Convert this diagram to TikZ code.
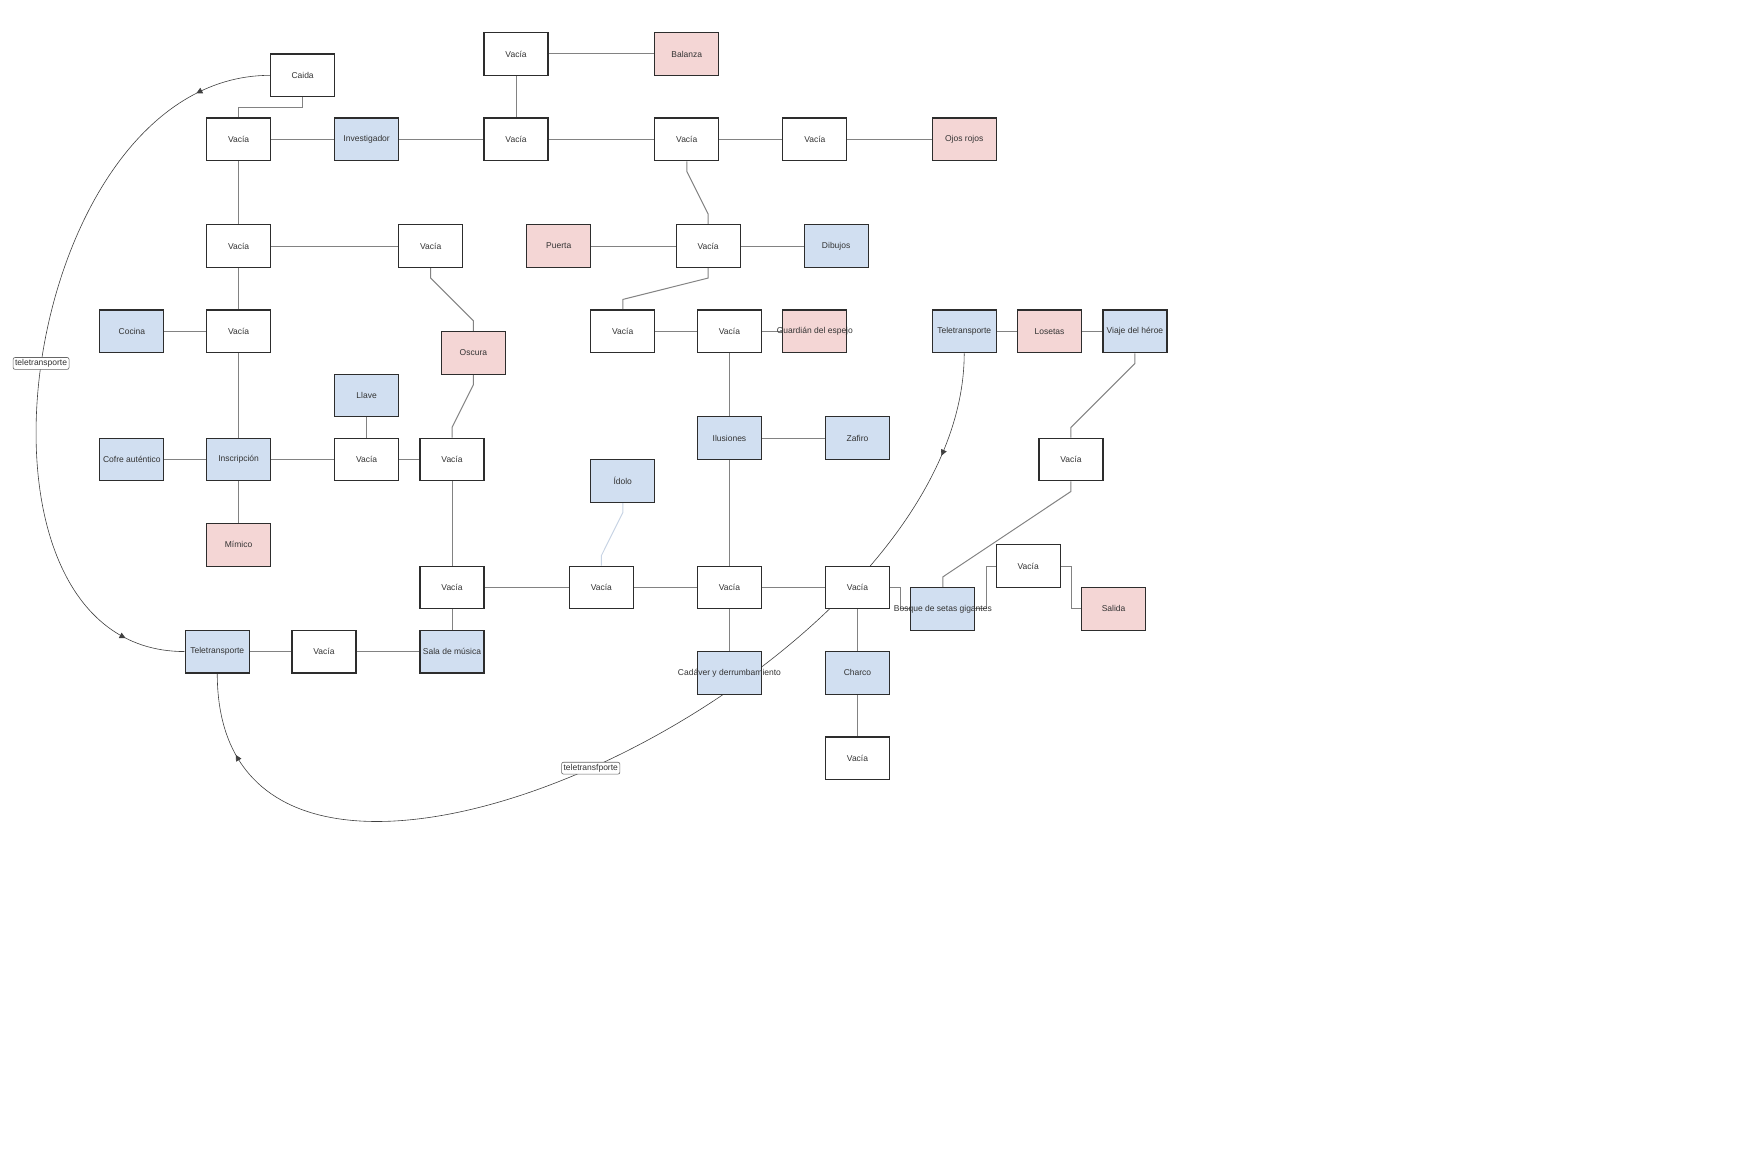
\documentclass[tikz,border=0pt]{standalone}
\usepackage{fontspec}
\setmainfont{Liberation Sans}
\usetikzlibrary{calc,arrows.meta,decorations.markings}
\definecolor{roomblue}{RGB}{209,223,241}
\definecolor{roompink}{RGB}{244,214,213}
\definecolor{roomedge}{RGB}{45,45,45}
\definecolor{linkgray}{RGB}{130,130,130}
\definecolor{idolink}{RGB}{200,212,228}
\definecolor{textgray}{RGB}{51,51,51}
\pgfdeclarelayer{bg}
\pgfsetlayers{bg,main}

\begin{document}
\begin{tikzpicture}[x=21.34pt,y=-21.34pt,
    room/.style={draw=roomedge, line width=1.2pt, fill=white, minimum width=64pt,
        minimum height=42.7pt, inner sep=0pt, text=textgray, font=\fontsize{8.5}{10}\selectfont},
    item/.style={room, fill=roomblue},
    trap/.style={room, fill=roompink},
    link/.style={draw=linkgray, line width=1pt},
    warp/.style={draw=black!75, line width=0.6pt, postaction={decorate},
        decoration={markings,
            mark=at position 0.1 with {\arrow{Triangle[length=6pt,width=6pt]}},
            mark=at position 0.92 with {\arrow{Triangle[length=6pt,width=6pt]}}}},
    tag/.style={draw=black!60, rounded corners=2pt, fill=white, inner sep=2pt,
        line width=0.6pt, text=textgray, font=\fontsize{8.5}{10}\selectfont}]
    \useasboundingbox (-0.18,-0.53) rectangle (81.82,54.30);

    \node[room] (vbal) at (24,2) {Vacía};
    \node[trap] (balanza) at (32,2) {Balanza};
    \node[room] (caida) at (14,3) {Caida};
    \node[room] (v1) at (11,6) {Vacía};
    \node[item] (invest) at (17,6) {Investigador};
    \node[room] (v2) at (24,6) {Vacía};
    \node[room] (v3) at (32,6) {Vacía};
    \node[room] (v4) at (38,6) {Vacía};
    \node[trap] (ojos) at (45,6) {Ojos rojos};
    \node[room] (v5) at (11,11) {Vacía};
    \node[room] (v6) at (20,11) {Vacía};
    \node[trap] (puerta) at (26,11) {Puerta};
    \node[room] (v7) at (33,11) {Vacía};
    \node[item] (dibujos) at (39,11) {Dibujos};
    \node[item] (cocina) at (6,15) {Cocina};
    \node[room] (v8) at (11,15) {Vacía};
    \node[room] (v9) at (29,15) {Vacía};
    \node[room] (v10) at (34,15) {Vacía};
    \node[trap] (guardian) at (38,15) {\makebox[0pt]{Guardián del espejo}};
    \node[item] (tele2) at (45,15) {Teletransporte};
    \node[trap] (losetas) at (49,15) {Losetas};
    \node[item] (viaje) at (53,15) {Viaje del héroe};
    \node[trap] (oscura) at (22,16) {Oscura};
    \node[item] (llave) at (17,18) {Llave};
    \node[item] (ilusiones) at (34,20) {Ilusiones};
    \node[item] (zafiro) at (40,20) {Zafiro};
    \node[item] (cofre) at (6,21) {\makebox[0pt]{Cofre auténtico}};
    \node[item] (inscrip) at (11,21) {Inscripción};
    \node[room] (v11) at (17,21) {Vacía};
    \node[room] (v12) at (21,21) {Vacía};
    \node[room] (v13) at (50,21) {Vacía};
    \node[item] (idolo) at (29,22) {Ídolo};
    \node[trap] (mimico) at (11,25) {Mímico};
    \node[room] (v14) at (48,26) {Vacía};
    \node[room] (v15) at (21,27) {Vacía};
    \node[room] (v16) at (28,27) {Vacía};
    \node[room] (v17) at (34,27) {Vacía};
    \node[room] (v18) at (40,27) {Vacía};
    \node[item] (bosque) at (44,28) {\makebox[0pt]{Bosque de setas gigantes}};
    \node[trap] (salida) at (52,28) {Salida};
    \node[item] (tele1) at (10,30) {Teletransporte};
    \node[room] (v19) at (15,30) {Vacía};
    \node[item] (musica) at (21,30) {\makebox[0pt]{Sala de música}};
    \node[item] (cadaver) at (34,31) {\makebox[0pt]{Cadáver y derrumbamiento}};
    \node[item] (charco) at (40,31) {Charco};
    \node[room] (v20) at (40,35) {Vacía};

    \begin{pgfonlayer}{bg}
        \draw[link] (vbal) -- (balanza);
        \draw[link] (vbal) -- (v2);
        \draw[link] (caida.south) -- ++(0,0.5) -| (v1.north);
        \draw[link] (v1) -- (invest) -- (v2) -- (v3) -- (v4) -- (ojos);
        \draw[link] (v1) -- (v5) -- (v8) -- (inscrip) -- (mimico);
        \draw[link] (v5) -- (v6);
        \draw[link] (v3.south) -- ++(0,0.47) -- ($(v7.north)+(0,-0.47)$) -- (v7.north);
        \draw[link] (puerta) -- (v7) -- (dibujos);
        \draw[link] (v7.south) -- ++(0,0.47) -- ($(v9.north)+(0,-0.47)$) -- (v9.north);
        \draw[link] (v6.south) -- ++(0,0.47) -- ($(oscura.north)+(0,-0.47)$) -- (oscura.north);
        \draw[link] (oscura.south) -- ++(0,0.47) -- ($(v12.north)+(0,-0.47)$) -- (v12.north);
        \draw[link] (cocina) -- (v8);
        \draw[link] (v9) -- (v10) -- (guardian);
        \draw[link] (v10) -- (ilusiones) -- (v17) -- (cadaver);
        \draw[link] (ilusiones) -- (zafiro);
        \draw[link] (tele2) -- (losetas) -- (viaje);
        \draw[link] (viaje.south) -- ++(0,0.47) -- ($(v13.north)+(0,-0.47)$) -- (v13.north);
        \draw[link] (v13.south) -- ++(0,0.47) -- ($(bosque.north)+(0,-0.47)$) -- (bosque.north);
        \draw[link] (llave) -- (v11);
        \draw[link] (cofre) -- (inscrip) -- (v11) -- (v12);
        \draw[link] (v12) -- (v15) -- (musica);
        \draw[link] (v15) -- (v16) -- (v17) -- (v18);
        \draw[link, draw=idolink] (idolo.south) -- ++(0,0.47) -- ($(v16.north)+(0,-0.47)$) -- (v16.north);
        \draw[link] (v18.east) -- ++(0.5,0) |- (bosque.west);
        \draw[link] (bosque.east) -- ++(0.5,0) |- (v14.west);
        \draw[link] (v14.east) -- ++(0.5,0) |- (salida.west);
        \draw[link] (tele1) -- (v19) -- (musica);
        \draw[link] (v18) -- (charco) -- (v20);

        \draw[warp] (caida.west) .. controls +(-11.77,0) and +(-11.5,0) .. (tele1.west)
            node[tag, pos=0.5] {teletransporte};
        \draw[warp] (tele2.south) .. controls +(0,15.33) and +(0,16.5) .. (tele1.south)
            node[tag, pos=0.5] {teletransfporte};
    \end{pgfonlayer}
\end{tikzpicture}
\end{document}
